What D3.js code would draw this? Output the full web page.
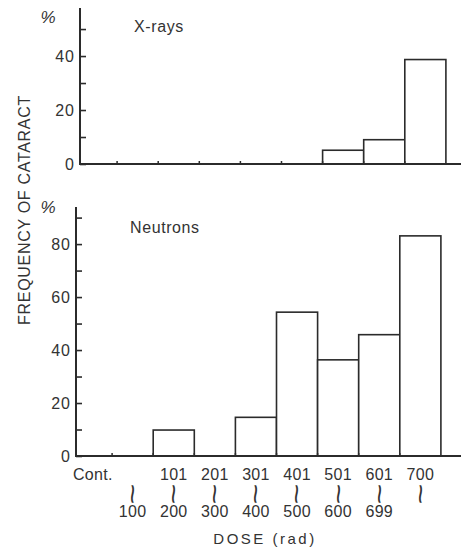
<!DOCTYPE html>
<html>
<head>
<meta charset="utf-8">
<script src="https://cdn.jsdelivr.net/npm/d3@7"></script>
<style>
  body { margin: 0; background: #fff; }
  svg { display: block; font-family: "Liberation Sans", Arial, sans-serif; }
</style>
</head>
<body>
<div id="chart"></div>
<script>
const width = 461, height = 547;

// data
const categories = ["Cont.", "1-100", "101-200", "201-300", "301-400", "401-500", "501-600", "601-699", "700-"];
const rangeLow  = ["Cont.", "", "101", "201", "301", "401", "501", "601", "700"];
const rangeHigh = ["", "100", "200", "300", "400", "500", "600", "699", ""];
const xrays    = [0, 0, 0, 0, 0, 0, 5.1, 9.0, 38.7];
const neutrons = [0, 0, 9.8, 0, 14.6, 54.3, 36.3, 45.8, 83.1];
const xrayTicks = [0, 20, 40];
const neutronTicks = [0, 20, 40, 60, 80];

const ink = "#2b2b2b";

const svg = d3.select("#chart").append("svg")
  .attr("width", width).attr("height", height)
  .attr("viewBox", [0, 0, width, height]);

function panel({values, name, axisX, bandStart, y0, yTop, yMax, ticks, minor, nameX, nameY, pctY}) {
  const x = d3.scaleBand().domain(categories)
    .range([bandStart, bandStart + 41.1 * categories.length]).padding(0);
  const y = d3.scaleLinear().domain([0, yMax]).range([y0, yTop]);
  const g = svg.append("g");

  // bars
  g.selectAll("rect.bar")
    .data(categories.map((c, i) => ({c, v: values[i]})).filter(d => d.v > 0))
    .join("rect")
    .attr("class", "bar")
    .attr("x", d => x(d.c))
    .attr("y", d => y(d.v))
    .attr("width", x.bandwidth())
    .attr("height", d => y(0) - y(d.v))
    .attr("fill", "#fff")
    .attr("stroke", ink)
    .attr("stroke-width", 1.6);

  // x baseline + small upward ticks at the band edges
  g.append("line")
    .attr("x1", axisX).attr("x2", width)
    .attr("y1", y(0)).attr("y2", y(0))
    .attr("stroke", ink).attr("stroke-width", 2);
  g.selectAll("line.xt")
    .data(categories.slice(0, -1))
    .join("line")
    .attr("class", "xt")
    .attr("x1", d => x(d) + x.bandwidth()).attr("x2", d => x(d) + x.bandwidth())
    .attr("y1", y(0)).attr("y2", y(0) - 3)
    .attr("stroke", ink).attr("stroke-width", 1.5);

  // y axis, ticks pointing inward
  const axis = d3.axisRight(y)
    .tickValues(ticks.concat(minor))
    .tickSize(6)
    .tickFormat("");
  const ag = g.append("g").attr("transform", `translate(${axisX},0)`).call(axis);
  ag.select(".domain").remove();
  ag.selectAll(".tick line").attr("stroke", ink).attr("stroke-width", 1.6);
  g.append("line")
    .attr("x1", axisX).attr("x2", axisX)
    .attr("y1", yTop).attr("y2", y(0) + 1)
    .attr("stroke", ink).attr("stroke-width", 2);

  g.selectAll("text.yl")
    .data(ticks)
    .join("text")
    .attr("class", "yl")
    .attr("x", axisX - 5)
    .attr("y", d => y(d))
    .attr("dy", "0.36em")
    .attr("text-anchor", "end")
    .attr("font-size", 16)
    .attr("letter-spacing", 1)
    .attr("fill", "#333")
    .text(d => d);

  g.append("text")
    .attr("x", 48).attr("y", pctY)
    .attr("text-anchor", "middle")
    .attr("font-size", 17)
    .attr("font-style", "italic")
    .attr("fill", "#333")
    .text("%");

  g.append("text")
    .attr("x", nameX).attr("y", nameY)
    .attr("font-size", 16)
    .attr("letter-spacing", 0.6)
    .attr("fill", "#333")
    .text(name);

  return x;
}

panel({values: xrays, name: "X-rays", axisX: 80, bandStart: 76, y0: 164, yTop: 8, yMax: 57.8,
       ticks: xrayTicks, minor: [10, 30, 50], nameX: 134, nameY: 32, pctY: 23});

const xb = panel({values: neutrons, name: "Neutrons", axisX: 76, bandStart: 71, y0: 456, yTop: 207, yMax: 94,
       ticks: neutronTicks, minor: [10, 30, 50, 70, 90], nameX: 130, nameY: 233, pctY: 213});

// x category labels: "low ~ high"
const lab = svg.append("g").attr("fill", "#333").attr("font-size", 16).attr("letter-spacing", 0.3);
lab.selectAll("text.low")
  .data(categories)
  .join("text")
  .attr("class", "low")
  .attr("x", (d, i) => i === 0 ? 73 : xb(d) + xb.bandwidth() / 2)
  .attr("y", 480)
  .attr("text-anchor", (d, i) => i === 0 ? "start" : "middle")
  .text((d, i) => rangeLow[i]);

lab.selectAll("text.tilde")
  .data(categories.slice(1))
  .join("text")
  .attr("class", "tilde")
  .attr("transform", d => `translate(${xb(d) + xb.bandwidth() / 2},494) rotate(90) scale(1.35,1)`)
  .attr("text-anchor", "middle")
  .attr("dy", "0.33em")
  .attr("font-size", 26)
  .attr("letter-spacing", 0)
  .text("~");

lab.selectAll("text.high")
  .data(categories)
  .join("text")
  .attr("class", "high")
  .attr("x", d => xb(d) + xb.bandwidth() / 2)
  .attr("y", 517)
  .attr("text-anchor", "middle")
  .text((d, i) => rangeHigh[i]);

svg.append("text")
  .attr("x", 265).attr("y", 544)
  .attr("text-anchor", "middle")
  .attr("font-size", 15)
  .attr("letter-spacing", 2.5)
  .attr("fill", "#333")
  .text("DOSE (rad)");

svg.append("text")
  .attr("transform", "translate(30,210) rotate(-90)")
  .attr("text-anchor", "middle")
  .attr("font-size", 16)
  .attr("letter-spacing", 0.7)
  .attr("fill", "#333")
  .text("FREQUENCY OF CATARACT");
</script>
</body>
</html>
